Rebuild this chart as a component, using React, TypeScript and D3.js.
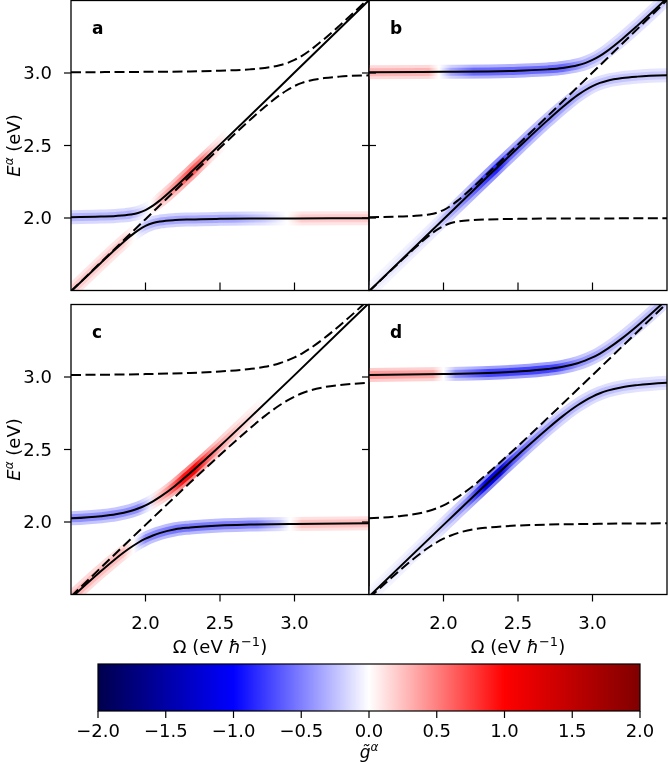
import React from 'react';
import * as d3 from 'd3';

// ---------- data ----------
const OMEGA_A = [1.5, 1.7, 1.8, 1.9, 1.95, 2.0, 2.05, 2.1, 2.2, 2.3, 2.5, 2.7, 3.0, 3.5];
const OMEGA_B = [1.5, 2.0, 2.3, 2.5, 2.7, 2.8, 2.9, 2.95, 3.0, 3.05, 3.1, 3.2, 3.3, 3.5];

// weak coupling (panels a, b)
const upperA_weak = [2.006, 2.010, 2.014, 2.024, 2.035, 2.055, 2.085, 2.124, 2.214, 2.310, 2.506, 2.704, 3.003, 3.502];
const lowerA_weak = [1.494, 1.690, 1.786, 1.876, 1.915, 1.945, 1.965, 1.976, 1.986, 1.990, 1.994, 1.996, 1.997, 1.998];
const upperB_weak = [3.005, 3.008, 3.011, 3.016, 3.025, 3.035, 3.053, 3.068, 3.090, 3.118, 3.153, 3.235, 3.325, 3.516];
const lowerB_weak = [1.495, 1.992, 2.289, 2.484, 2.675, 2.765, 2.847, 2.881, 2.910, 2.932, 2.947, 2.965, 2.975, 2.984];
// strong coupling (panels c, d)
const upperA_strong = [2.025, 2.040, 2.053, 2.076, 2.093, 2.115, 2.143, 2.175, 2.250, 2.338, 2.524, 2.718, 3.013, 3.510];
const lowerA_strong = [1.475, 1.660, 1.747, 1.824, 1.857, 1.885, 1.907, 1.925, 1.950, 1.962, 1.976, 1.982, 1.987, 1.991];
const upperB_strong = [3.014, 3.020, 3.028, 3.038, 3.055, 3.070, 3.095, 3.113, 3.135, 3.162, 3.194, 3.268, 3.352, 3.536];
const lowerB_strong = [1.486, 1.980, 2.272, 2.462, 2.645, 2.730, 2.805, 2.837, 2.865, 2.888, 2.906, 2.930, 2.944, 2.960];

// g-tilde along the solid branches
const aUpperOmega = [1.5, 1.9, 1.97, 2.03, 2.1, 2.2, 2.3, 2.36, 2.45, 2.55];
const aUpperG = [-0.3, -0.3, -0.15, 0.0, 0.25, 0.45, 0.7, 0.6, 0.2, 0.0];
const aLowerOmega = [1.5, 1.85, 1.93, 2.0, 2.1, 2.6, 2.8, 2.95, 3.05, 3.5];
const aLowerG = [0.2, 0.2, 0.0, -0.25, -0.35, -0.35, -0.2, 0.0, 0.2, 0.2];

const bUpperOmega = [1.5, 1.9, 1.97, 2.05, 2.2, 2.8, 2.95, 3.1, 3.5];
const bUpperG = [0.3, 0.3, 0.0, -0.35, -0.6, -0.6, -0.35, -0.25, -0.2];
const bLowerOmega = [1.5, 1.7, 1.95, 2.1, 2.25, 2.36, 2.45, 2.6, 2.85, 3.0, 3.5];
const bLowerG = [-0.05, -0.1, -0.15, -0.4, -0.7, -0.9, -0.6, -0.5, -0.35, -0.25, -0.2];

const cUpperOmega = [1.5, 1.95, 2.03, 2.08, 2.15, 2.25, 2.33, 2.42, 2.5, 2.65, 2.8];
const cUpperG = [-0.45, -0.45, -0.1, 0.2, 0.45, 0.95, 1.05, 0.6, 0.35, 0.15, 0.0];
const cLowerOmega = [1.5, 1.85, 1.92, 2.0, 2.2, 2.75, 2.9, 2.97, 3.05, 3.5];
const cLowerG = [0.3, 0.25, 0.0, -0.45, -0.55, -0.5, -0.25, 0.0, 0.25, 0.25];

const dUpperOmega = [1.5, 1.93, 2.0, 2.08, 2.3, 2.75, 2.9, 3.1, 3.5];
const dUpperG = [0.4, 0.35, 0.0, -0.45, -0.75, -0.75, -0.45, -0.3, -0.25];
const dLowerOmega = [1.5, 1.7, 1.95, 2.15, 2.28, 2.38, 2.47, 2.6, 2.8, 3.5];
const dLowerG = [-0.05, -0.1, -0.15, -0.45, -1.1, -1.2, -0.65, -0.45, -0.3, -0.2];

const xTicks = [2.0, 2.5, 3.0];
const yTicks = [2.0, 2.5, 3.0];
const cbTicks = [-2.0, -1.5, -1.0, -0.5, 0.0, 0.5, 1.0, 1.5, 2.0];
const panelLabels = ['a', 'b', 'c', 'd'];

// ---------- layout ----------
const W = 668, H = 762;
const COLS: [number, number][] = [[71, 369], [369, 667]];
const ROWS: [number, number][] = [[0.5, 290.5], [304.5, 594.5]];
const CB = { x0: 98, x1: 640, y0: 664, y1: 711 };
const FONT = 'DejaVu Sans, sans-serif';
const FS = 18;

const seismic = d3.scaleLinear<string>()
  .domain([-2, -1, 0, 1, 2])
  .range(['#00004d', '#0000ff', '#ffffff', '#ff0000', '#800000'])
  .interpolate(d3.interpolateRgb)
  .clamp(true);

type Curve = { x: number[]; y: number[] };
type Band = { omega: number[]; g: number[] };
type Panel = {
  label: string; col: number; row: number;
  solid: Curve[]; dashed: Curve[]; bands: [Curve, Band][];
};

const cv = (x: number[], y: number[]): Curve => ({ x, y });

const panels: Panel[] = [
  {
    label: panelLabels[0], col: 0, row: 0,
    solid: [cv(OMEGA_A, upperA_weak), cv(OMEGA_A, lowerA_weak)],
    dashed: [cv(OMEGA_B, upperB_weak), cv(OMEGA_B, lowerB_weak)],
    bands: [[cv(OMEGA_A, upperA_weak), { omega: aUpperOmega, g: aUpperG }], [cv(OMEGA_A, lowerA_weak), { omega: aLowerOmega, g: aLowerG }]],
  },
  {
    label: panelLabels[1], col: 1, row: 0,
    solid: [cv(OMEGA_B, upperB_weak), cv(OMEGA_B, lowerB_weak)],
    dashed: [cv(OMEGA_A, upperA_weak), cv(OMEGA_A, lowerA_weak)],
    bands: [[cv(OMEGA_B, upperB_weak), { omega: bUpperOmega, g: bUpperG }], [cv(OMEGA_B, lowerB_weak), { omega: bLowerOmega, g: bLowerG }]],
  },
  {
    label: panelLabels[2], col: 0, row: 1,
    solid: [cv(OMEGA_A, upperA_strong), cv(OMEGA_A, lowerA_strong)],
    dashed: [cv(OMEGA_B, upperB_strong), cv(OMEGA_B, lowerB_strong)],
    bands: [[cv(OMEGA_A, upperA_strong), { omega: cUpperOmega, g: cUpperG }], [cv(OMEGA_A, lowerA_strong), { omega: cLowerOmega, g: cLowerG }]],
  },
  {
    label: panelLabels[3], col: 1, row: 1,
    solid: [cv(OMEGA_B, upperB_strong), cv(OMEGA_B, lowerB_strong)],
    dashed: [cv(OMEGA_A, upperA_strong), cv(OMEGA_A, lowerA_strong)],
    bands: [[cv(OMEGA_B, upperB_strong), { omega: dUpperOmega, g: dUpperG }], [cv(OMEGA_B, lowerB_strong), { omega: dLowerOmega, g: dLowerG }]],
  },
];

const fmt = d3.format('.1f');
const fmtSigned = (v: number) => fmt(v).replace('-', '\u2212');

function PanelView({ p }: { p: Panel }) {
  const [x0, x1] = COLS[p.col];
  const [y0, y1] = ROWS[p.row];
  const xs = d3.scaleLinear().domain([1.5, 3.5]).range([x0, x1]);
  const ys = d3.scaleLinear().domain([1.5, 3.5]).range([y1, y0]);
  const line = d3.line<[number, number]>().x(d => xs(d[0])).y(d => ys(d[1])).curve(d3.curveMonotoneX);
  const pathOf = (c: Curve) => line(c.x.map((v, i) => [v, c.y[i]] as [number, number])) || '';
  const clipId = `clip-${p.label}`;
  const isBottom = p.row === 1;
  const isLeft = p.col === 0;
  return (
    <g>
      <defs>
        <clipPath id={clipId}>
          <rect x={x0} y={y0} width={x1 - x0} height={y1 - y0} />
        </clipPath>
        {p.bands.map(([, b], i) => (
          <linearGradient key={i} id={`grad-${p.label}-${i}`} gradientUnits="userSpaceOnUse" x1={xs(1.5)} x2={xs(3.5)} y1={0} y2={0}>
            {b.omega.map((o, k) => (
              <stop key={k} offset={(o - 1.5) / 2} stopColor={seismic(b.g[k])} />
            ))}
          </linearGradient>
        ))}
      </defs>
      <g clipPath={`url(#${clipId})`}>
        {p.bands.map(([c], i) => (
          <g key={i} style={{ mixBlendMode: 'multiply' }}>
            <path d={pathOf(c)} fill="none" stroke={`url(#grad-${p.label}-${i})`} strokeWidth={14} strokeOpacity={0.5} />
            <path d={pathOf(c)} fill="none" stroke={`url(#grad-${p.label}-${i})`} strokeWidth={8} strokeOpacity={0.95} />
          </g>
        ))}
        {p.dashed.map((c, i) => (
          <path key={`d${i}`} d={pathOf(c)} fill="none" stroke="#000" strokeWidth={2} strokeDasharray="10 4.5" />
        ))}
        {p.solid.map((c, i) => (
          <path key={`s${i}`} d={pathOf(c)} fill="none" stroke="#000" strokeWidth={2} />
        ))}
      </g>
      <rect x={x0} y={y0} width={x1 - x0} height={y1 - y0} fill="none" stroke="#000" strokeWidth={1.3} />
      {xTicks.map(t => (
        <g key={`xt${t}`}>
          {isBottom ? (
            <>
              <line x1={xs(t)} x2={xs(t)} y1={y1} y2={y1 + 7} stroke="#000" strokeWidth={1.2} />
              <text x={xs(t)} y={y1 + 34} textAnchor="middle" fontFamily={FONT} fontSize={FS}>{fmt(t)}</text>
            </>
          ) : (
            <line x1={xs(t)} x2={xs(t)} y1={y1} y2={y1 - 8} stroke="#000" strokeWidth={1.2} />
          )}
        </g>
      ))}
      {yTicks.map(t => (
        <g key={`yt${t}`}>
          {isLeft ? (
            <>
              <line x1={x0 - 7} x2={x0} y1={ys(t)} y2={ys(t)} stroke="#000" strokeWidth={1.2} />
              <text x={x0 - 19} y={ys(t)} dy="0.36em" textAnchor="end" fontFamily={FONT} fontSize={FS}>{fmt(t)}</text>
            </>
          ) : (
            <line x1={x0 - 7} x2={x0 + (p.row === 0 ? 7 : 0)} y1={ys(t)} y2={ys(t)} stroke="#000" strokeWidth={1.2} />
          )}
        </g>
      ))}
      <text x={x0 + 21} y={y0 + 33} fontFamily={FONT} fontSize={17} fontWeight="bold">{p.label}</text>
      {isLeft && (
        <text transform={`translate(20, ${(y0 + y1) / 2}) rotate(-90)`} textAnchor="middle" fontFamily={FONT} fontSize={18}>
          <tspan fontStyle="italic">E</tspan>
          <tspan dy={-7} fontSize={12} fontStyle="italic">α</tspan>
          <tspan dy={7}> (eV)</tspan>
        </text>
      )}
      {isBottom && (
        <text x={(x0 + x1) / 2} y={y1 + 58} textAnchor="middle" fontFamily={FONT} fontSize={FS}>
          <tspan>Ω (eV </tspan>
          <tspan fontStyle="italic">ħ</tspan>
          <tspan dy={-7} fontSize={13}>−1</tspan>
          <tspan dy={7}>)</tspan>
        </text>
      )}
    </g>
  );
}

function Colorbar() {
  const xs = d3.scaleLinear().domain([-2, 2]).range([CB.x0, CB.x1]);
  const stops = [-2, -1, 0, 1, 2];
  return (
    <g>
      <defs>
        <linearGradient id="cbgrad" x1="0" x2="1" y1="0" y2="0">
          {stops.map(s => (
            <stop key={s} offset={(s + 2) / 4} stopColor={seismic(s)} />
          ))}
        </linearGradient>
      </defs>
      <rect x={CB.x0} y={CB.y0} width={CB.x1 - CB.x0} height={CB.y1 - CB.y0} fill="url(#cbgrad)" stroke="#000" strokeWidth={1.2} />
      {cbTicks.map(t => (
        <g key={t}>
          <line x1={xs(t)} x2={xs(t)} y1={CB.y1} y2={CB.y1 + 7} stroke="#000" strokeWidth={1.2} />
          <text x={xs(t)} y={CB.y1 + 26} textAnchor="middle" fontFamily={FONT} fontSize={FS}>{fmtSigned(t)}</text>
        </g>
      ))}
      <text x={(CB.x0 + CB.x1) / 2} y={CB.y1 + 47} textAnchor="middle" fontFamily={FONT} fontSize={17}>
        <tspan fontStyle="italic">g̃</tspan>
        <tspan dy={-7} fontSize={12} fontStyle="italic">α</tspan>
      </text>
    </g>
  );
}

export default function App() {
  return (
    <svg width={W} height={H} style={{ position: 'absolute', left: 0, top: 0, background: '#fff' }}>
      <rect x={0} y={0} width={W} height={H} fill="#fff" />
      {panels.map(p => <PanelView key={p.label} p={p} />)}
      <Colorbar />
    </svg>
  );
}
